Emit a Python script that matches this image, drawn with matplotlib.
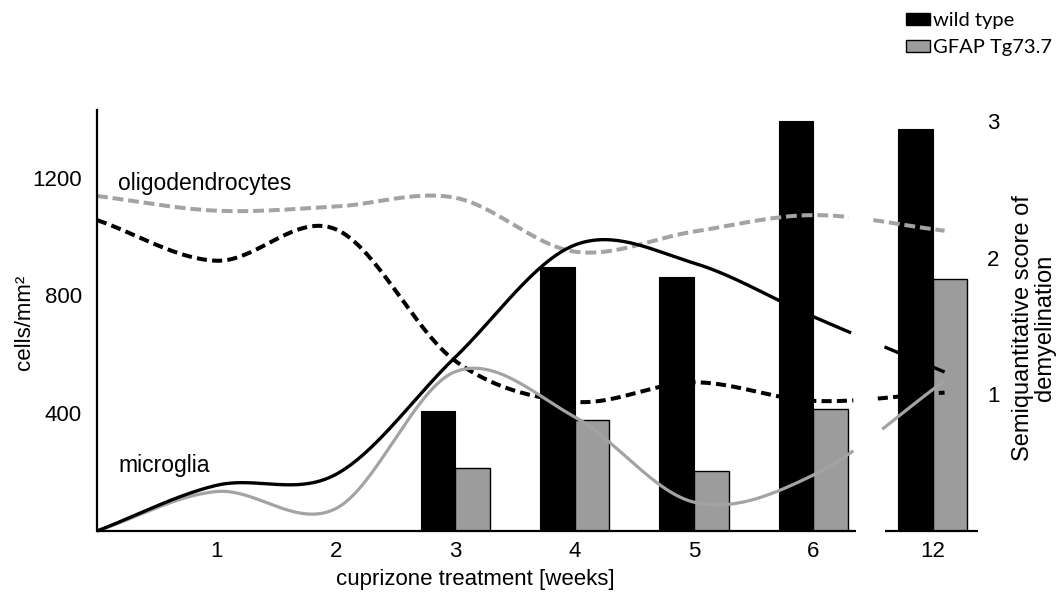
import numpy as np
import matplotlib
matplotlib.use('Agg')
import matplotlib.pyplot as plt
from matplotlib.patches import Patch

plt.rcParams['font.family'] = ['Liberation Sans', 'DejaVu Sans']

# ---- data ----
weeks = ['0', '1', '2', '3', '4', '5', '6', '12']
tick_labels = ['1', '2', '3', '4', '5', '6', '12']
bar_weeks = ['3', '4', '5', '6', '12']
demyel_wt = [0.88, 1.93, 1.86, 3.00, 2.94]      # semiquantitative score, wild type
demyel_tg = [0.46, 0.81, 0.44, 0.89, 1.84]      # semiquantitative score, GFAP Tg73.7
olig_wt = [1056, 918, 1025, 578, 439, 505, 442, 470]     # cells/mm2
olig_tg = [1138, 1088, 1102, 1132, 949, 1017, 1073, 1020]
micro_wt = [0, 155, 192, 590, 971, 910, 728, 540]
micro_tg = [0, 134, 76, 541, 388, 98, 190, 510]

# category positions (12 weeks shown after an axis break)
pos = {w: i for i, w in enumerate(weeks)}
line_x = np.array([pos[w] for w in weeks], float)
line_x[-1] += 0.1


def smooth(x, y, n=60):
    x = np.asarray(x, float)
    y = np.asarray(y, float)
    m = np.empty_like(y)
    m[1:-1] = (y[2:] - y[:-2]) / (x[2:] - x[:-2])
    m[0] = (y[1] - y[0]) / (x[1] - x[0])
    m[-1] = (y[-1] - y[-2]) / (x[-1] - x[-2])
    xs, ys = [], []
    for i in range(len(x) - 1):
        h = x[i + 1] - x[i]
        t = np.linspace(0, 1, n, endpoint=(i == len(x) - 2))
        h00 = 2 * t**3 - 3 * t**2 + 1
        h10 = t**3 - 2 * t**2 + t
        h01 = -2 * t**3 + 3 * t**2
        h11 = t**3 - t**2
        xs.append(x[i] + t * h)
        ys.append(h00 * y[i] + h10 * h * m[i] + h01 * y[i + 1] + h11 * h * m[i + 1])
    return np.concatenate(xs), np.concatenate(ys)


W, H = 1058, 599
fig = plt.figure(figsize=(W / 100, H / 100), dpi=100)
ax = fig.add_axes([97 / W, 68 / H, 881 / W, 421 / H])
ax2 = ax.twinx()
ax.set_zorder(2)
ax2.set_zorder(1)
ax.patch.set_visible(False)

GREY_BAR = '#9c9c9c'
GREY_LINE = '#a3a3a3'

# bars (right axis)
bw = 0.29
bx = np.array([pos[w] for w in bar_weeks], float)
ax2.bar(bx - bw / 2, demyel_wt, width=bw, color='black', edgecolor='black', linewidth=0.8)
ax2.bar(bx + bw / 2, demyel_tg, width=bw, color=GREY_BAR, edgecolor='black', linewidth=1.0)
ax2.set_ylim(0, 3.08)
ax2.set_yticks([1, 2, 3])
ax2.tick_params(axis='y', length=0, pad=6.5, labelsize=16)
for s in ax2.spines.values():
    s.set_visible(False)

# lines (left axis) with a gap at the axis break
styles = [
    (olig_tg, dict(color=GREY_LINE, lw=2.9, linestyle=(0, (2.7, 1.2))), 6.31, 6.49),
    (olig_wt, dict(color='black', lw=2.9, linestyle=(0, (2.5, 1.3))), 6.35, 6.54),
    (micro_tg, dict(color=GREY_LINE, lw=2.3), 6.35, 6.57),
    (micro_wt, dict(color='black', lw=2.4), 6.33, 6.59),
]
for vals, kw, g0, g1 in styles:
    xs, ys = smooth(line_x, vals)
    a = xs <= g0
    b = xs >= g1
    ax.plot(xs[a], ys[a], clip_on=False, solid_capstyle='butt', dash_capstyle='butt', **kw)
    ax.plot(xs[b], ys[b], clip_on=False, solid_capstyle='butt', dash_capstyle='butt', **kw)

ax.set_xlim(0, 7.38)
ax.set_ylim(0, 1430)
ax.set_yticks([400, 800, 1200])
ax.set_xticks([pos[w] for w in tick_labels])
ax.set_xticklabels(tick_labels)
ax.tick_params(axis='both', length=0, labelsize=16)
ax.tick_params(axis='y', pad=11)
ax.tick_params(axis='x', pad=7)
for side in ['top', 'right', 'bottom']:
    ax.spines[side].set_visible(False)
ax.spines['left'].set_linewidth(1.6)

# broken bottom axis
ax.hlines(0, 0, 6.36, color='black', lw=1.6, clip_on=False, zorder=5)
ax.hlines(0, 6.6, 7.38, color='black', lw=1.6, clip_on=False, zorder=5)

ax.text(0.18, 1182, 'oligodendrocytes', fontsize=16.5, va='center', ha='left')
ax.text(0.18, 221, 'microglia', fontsize=16.5, va='center', ha='left')

ax.set_xlabel('cuprizone treatment [weeks]', fontsize=16)
ax.xaxis.set_label_coords((475 - 97) / 881, -(579 - 531) / 421, transform=ax.transAxes)
ax.xaxis.label.set_va('center')

fig.text(25 / W, 1 - 322 / H, 'cells/mm²', rotation=90, fontsize=16, ha='center', va='center')
fig.text(1034 / W, 1 - 328 / H, 'Semiquantitative score of\ndemyelination', rotation=90,
         fontsize=17, ha='center', va='center', multialignment='center', linespacing=1.05)

handles = [Patch(facecolor='black', edgecolor='black', lw=1.0),
           Patch(facecolor=GREY_BAR, edgecolor='black', lw=1.0)]
fig.legend(handles, ['wild type', 'GFAP Tg73.7'], loc='upper left',
           bbox_to_anchor=(906 / W, 1 - 12 / H), frameon=False,
           prop={'family': 'Lato', 'size': 14.5}, handlelength=1.2, handleheight=0.6,
           handletextpad=0.15, labelspacing=0.5, borderpad=0, borderaxespad=0)

fig.savefig('out.png', dpi=100)
